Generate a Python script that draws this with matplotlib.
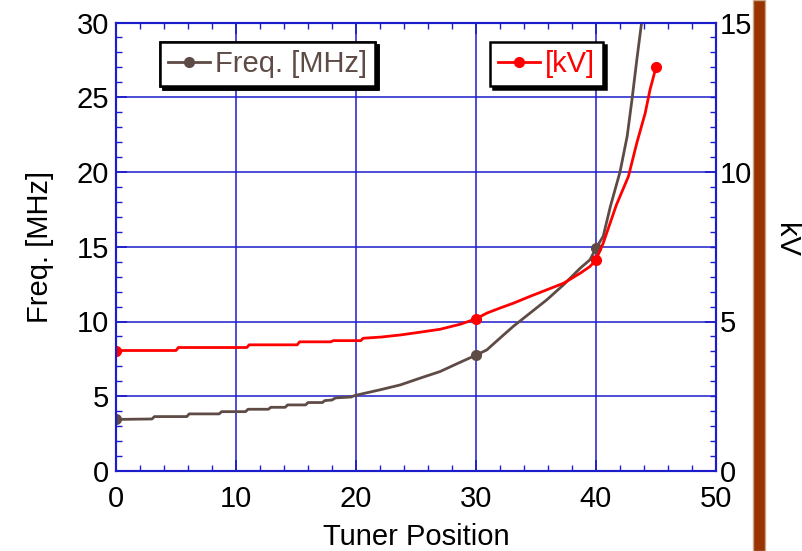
import numpy as np
import matplotlib
matplotlib.use("Agg")
import matplotlib.pyplot as plt
from matplotlib.patches import Rectangle
from matplotlib.ticker import MultipleLocator

plt.rcParams['font.family'] = ['Liberation Sans', 'DejaVu Sans']

# Freq. [MHz] vs tuner position
freq_x = [0, 3.0, 3.2, 5.9, 6.1, 8.6, 8.8, 10.8, 11.0, 12.7, 12.9, 14.1, 14.3, 15.8, 16.0,
          17.2, 17.4, 18.0, 18.3, 19.6, 19.9, 22.0, 23.7, 25.3, 27.0, 28.4, 30.0, 30.9, 32.0,
          33.1, 34.5, 35.9, 37.3, 38.7, 39.5, 40.0, 40.6, 41.2, 42.0, 42.6, 43.0, 43.4, 43.8, 44.2]
freq_y = [3.45, 3.48, 3.64, 3.64, 3.82, 3.82, 3.97, 3.97, 4.13, 4.13, 4.26, 4.26, 4.42, 4.42, 4.58,
          4.58, 4.71, 4.75, 4.89, 4.95, 5.05, 5.43, 5.76, 6.2, 6.65, 7.17, 7.75, 8.1, 8.89,
          9.67, 10.56, 11.45, 12.46, 13.58, 14.13, 14.9, 15.7, 17.7, 20.0, 22.4, 24.85, 27.5, 30.0, 32.5]
freq_marks = [0, 26, 35]

# kV vs tuner position
kv_x = [0, 5.0, 5.2, 10.9, 11.1, 15.1, 15.3, 17.9, 18.1, 20.4, 20.6, 22.1, 23.7, 25.3, 27.0,
        28.7, 30.0, 30.9, 32.0, 33.1, 34.5, 35.9, 37.3, 38.7, 39.5, 40.0, 40.6, 41.7, 42.7,
        43.4, 44.1, 44.5, 45.0]
kv_y = [4.03, 4.03, 4.13, 4.13, 4.22, 4.22, 4.32, 4.32, 4.36, 4.36, 4.44, 4.48, 4.55, 4.64, 4.74,
        4.91, 5.09, 5.28, 5.45, 5.61, 5.84, 6.06, 6.28, 6.62, 6.84, 7.06, 7.62, 8.9, 9.85,
        10.97, 11.97, 12.75, 13.5]
kv_marks = [0, 16, 25, 32]

brown = '#5f4b45'
red = '#ff0000'
blue = '#1c1ccc'
fs = 21

fig = plt.figure(figsize=(8.03, 5.51), dpi=100)
ax = fig.add_axes([116 / 803, 80 / 551, 600 / 803, 448.5 / 551])
ax2 = ax.twinx()

l1, = ax.plot(freq_x, freq_y, color=brown, lw=2, marker='o', ms=7,
              markevery=freq_marks, label='Freq. [MHz]')
l2, = ax2.plot(kv_x, kv_y, color=red, lw=2, marker='o', ms=7,
               markevery=kv_marks, label='[kV]')

ax.set_xlim(0, 50)
ax.set_ylim(0, 30)
ax2.set_ylim(0, 15)
ax.set_xticks(np.arange(0, 51, 10))
ax.set_yticks(np.arange(0, 31, 5))
ax2.set_yticks(np.arange(0, 16, 5))
ax.xaxis.set_minor_locator(MultipleLocator(2))
ax.yaxis.set_minor_locator(MultipleLocator(1))
ax2.yaxis.set_minor_locator(MultipleLocator(0.5))

ax.grid(True, which='major', color=blue, lw=1.1)
for a in (ax, ax2):
    for s in a.spines.values():
        s.set_color(blue)
        s.set_linewidth(1.5)
ax.tick_params(which='both', direction='in', top=True, right=False, color=blue,
               labelsize=fs, pad=5)
ax.tick_params(axis='x', which='major', pad=10)
ax.tick_params(which='major', length=8, width=1.2)
ax.tick_params(which='minor', length=4, width=1)
ax2.tick_params(which='both', direction='in', color=blue, labelsize=fs, pad=3)
ax2.tick_params(which='major', length=8, width=1.2)
ax2.tick_params(which='minor', length=4, width=1)

ax.set_xlabel('Tuner Position', fontsize=fs, labelpad=7)
ax.set_ylabel('Freq. [MHz]', fontsize=fs, labelpad=16)
fig.text(786 / 803, 1 - 240 / 551, 'kV', fontsize=fs, rotation=-90,
         ha='center', va='center')

leg_kw = dict(loc='upper left', fontsize=fs, labelcolor='linecolor', handlelength=1.45,
              handletextpad=0.15, borderpad=0.28, borderaxespad=0, fancybox=False,
              shadow={'color': 'k', 'alpha': 1, 'ox': 2, 'oy': -2}, framealpha=1,
              edgecolor='k')
leg1 = ax.legend(handles=[l1], bbox_to_anchor=(0.073, 0.957), **leg_kw)
leg1.get_frame().set_linewidth(1.8)
ax.add_artist(leg1)
leg2 = ax2.legend(handles=[l2], bbox_to_anchor=(0.623, 0.957), **leg_kw)
leg2.get_frame().set_linewidth(1.8)

fig.patches.append(Rectangle((753 / 803, 0), 12 / 803, 1, transform=fig.transFigure,
                             facecolor='#993300', edgecolor='#c9a88a', lw=1))

fig.savefig('out.png', dpi=100)
